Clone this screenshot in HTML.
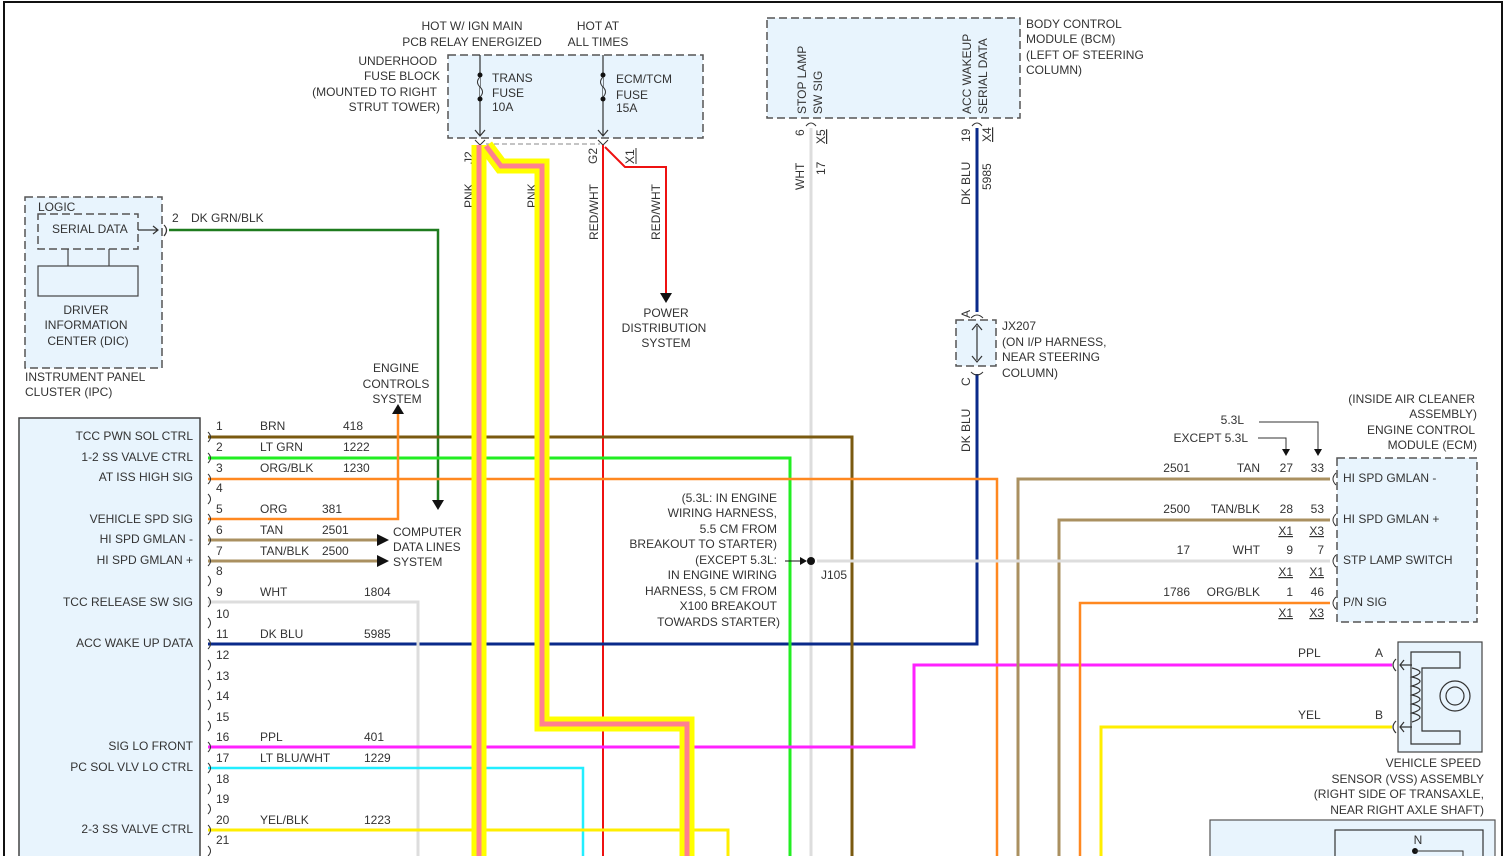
<!DOCTYPE html>
<html><head><meta charset="utf-8"><style>
html,body{margin:0;padding:0;background:#fff;}
svg{display:block;font-family:"Liberation Sans",Arial,sans-serif;}
text{font-size:12px;fill:#333;}
</style></head><body>
<svg width="1506" height="856" viewBox="0 0 1506 856" xmlns="http://www.w3.org/2000/svg">
<rect x="0" y="0" width="1506" height="856" fill="#fff"/>
<!-- outer border -->
<path d="M4 856 V2 H1502 V856" fill="none" stroke="#111" stroke-width="2"/>

<!-- boxes -->
<rect x="25" y="197" width="137" height="171" fill="#e8f4fd" stroke="#555" stroke-dasharray="8,4" stroke-width="1.5"/>
<rect x="38" y="214" width="100" height="35" fill="#e8f4fd" stroke="#555" stroke-dasharray="8,4" stroke-width="1.5"/>
<rect x="38" y="266" width="100" height="30" fill="#e8f4fd" stroke="#444" stroke-width="1.2"/>
<path d="M68 249 V266 M109 249 V266" stroke="#444" stroke-width="1.2"/>
<path d="M138 230 H158 M153 226 L158 230 L153 234" stroke="#333" fill="none" stroke-width="1.2"/>
<path d="M164 225 Q169 230 164 236" stroke="#333" fill="none" stroke-width="1.2"/>
<text x="38" y="211">LOGIC</text>
<text x="52" y="233">SERIAL DATA</text>
<text x="86" y="314" text-anchor="middle">DRIVER</text>
<text x="86" y="329" text-anchor="middle">INFORMATION</text>
<text x="88" y="345" text-anchor="middle">CENTER (DIC)</text>
<text x="25" y="381">INSTRUMENT PANEL</text>
<text x="25" y="396">CLUSTER (IPC)</text>

<rect x="448" y="55" width="255" height="83" fill="#e8f4fd" stroke="#555" stroke-dasharray="8,4" stroke-width="1.5"/>
<rect x="767" y="18" width="253" height="100" fill="#e8f4fd" stroke="#555" stroke-dasharray="8,4" stroke-width="1.5"/>
<rect x="1337" y="458" width="140" height="164" fill="#e8f4fd" stroke="#555" stroke-dasharray="8,4" stroke-width="1.5"/>
<rect x="956" y="320" width="40" height="46" fill="#e8f4fd" stroke="#555" stroke-dasharray="8,4" stroke-width="1.5"/>
<rect x="19" y="418" width="181" height="450" fill="#e8f4fd" stroke="#444" stroke-width="1.5"/>
<rect x="1398" y="642" width="84" height="110" fill="#e8f4fd" stroke="#444" stroke-width="1.2"/>
<rect x="1210" y="820" width="285" height="50" fill="#e8f4fd" stroke="#555" stroke-width="1.2"/>
<rect x="1335" y="830" width="148" height="40" fill="none" stroke="#333" stroke-width="1.2"/>
<text x="1418" y="844" text-anchor="middle">N</text>
<circle cx="1415" cy="851" r="3" fill="#111"/>
<path d="M1415 851 H1463 V856" stroke="#333" fill="none"/>

<!-- fuse labels -->
<text x="472" y="30" text-anchor="middle">HOT W/ IGN MAIN</text>
<text x="472" y="46" text-anchor="middle">PCB RELAY ENERGIZED</text>
<text x="598" y="30" text-anchor="middle">HOT AT</text>
<text x="598" y="46" text-anchor="middle">ALL TIMES</text>
<text x="437" y="65" text-anchor="end">UNDERHOOD</text>
<text x="440" y="80" text-anchor="end">FUSE BLOCK</text>
<text x="437" y="96" text-anchor="end">(MOUNTED TO RIGHT</text>
<text x="440" y="111" text-anchor="end">STRUT TOWER)</text>
<path d="M480 55 V135 M475 130 L480 136 L485 130 M603 55 V135 M598 130 L603 136 L608 130" stroke="#333" fill="none" stroke-width="1.2"/>
<circle cx="480" cy="75" r="2.5" fill="#111"/><circle cx="480" cy="99" r="2.5" fill="#111"/>
<circle cx="603" cy="75" r="2.5" fill="#111"/><circle cx="603" cy="99" r="2.5" fill="#111"/>
<path d="M480 77 Q475 82 480 87 Q485 92 480 97" fill="#e8f4fd" stroke="#333"/>
<path d="M603 77 Q598 82 603 87 Q608 92 603 97" fill="#e8f4fd" stroke="#333"/>
<text x="492" y="82">TRANS</text><text x="492" y="97">FUSE</text><text x="492" y="111">10A</text>
<text x="616" y="83">ECM/TCM</text><text x="616" y="99">FUSE</text><text x="616" y="112">15A</text>
<path d="M475 140 L480 145 L485 140 M598 140 L603 145 L608 140" stroke="#333" fill="none"/>
<path d="M486 144 H600" stroke="#888" stroke-dasharray="5,3"/>
<text transform="translate(473,164) rotate(-90)">J2</text>
<text transform="translate(597,164) rotate(-90)">G2</text>
<text transform="translate(634,164) rotate(-90)">X1</text>
<path d="M636 148 V164" stroke="#333"/>
<text transform="translate(473,208) rotate(-90)">PNK</text>
<text transform="translate(536,208) rotate(-90)">PNK</text>
<text transform="translate(598,240) rotate(-90)">RED/WHT</text>
<text transform="translate(660,240) rotate(-90)">RED/WHT</text>

<!-- BCM -->
<text transform="translate(806,114) rotate(-90)">STOP LAMP</text>
<text transform="translate(822,114) rotate(-90)">SW SIG</text>
<text transform="translate(971,114) rotate(-90)">ACC WAKEUP</text>
<text transform="translate(987,114) rotate(-90)">SERIAL DATA</text>
<text x="1026" y="28">BODY CONTROL</text>
<text x="1026" y="43">MODULE (BCM)</text>
<text x="1026" y="59">(LEFT OF STEERING</text>
<text x="1026" y="74">COLUMN)</text>
<path d="M806 126 Q811 120 816 126 M972 126 Q977 120 982 126" fill="none" stroke="#333"/>
<text transform="translate(804,136) rotate(-90)">6</text>
<text transform="translate(825,144) rotate(-90)" text-decoration="underline">X5</text>
<text transform="translate(970,142) rotate(-90)">19</text>
<text transform="translate(991,142) rotate(-90)" text-decoration="underline">X4</text>
<text transform="translate(804,190) rotate(-90)">WHT</text>
<text transform="translate(825,175) rotate(-90)">17</text>
<text transform="translate(970,205) rotate(-90)">DK BLU</text>
<text transform="translate(991,190) rotate(-90)">5985</text>
<text transform="translate(970,318) rotate(-90)">A</text>
<text transform="translate(970,386) rotate(-90)">C</text>
<text transform="translate(970,452) rotate(-90)">DK BLU</text>
<text x="1002" y="330">JX207</text>
<text x="1002" y="346">(ON I/P HARNESS,</text>
<text x="1002" y="361">NEAR STEERING</text>
<text x="1002" y="377">COLUMN)</text>

<!-- wires -->
<g fill="none">
<path d="M169 230 H438 V505" stroke="#1e7b1e" stroke-width="2.5"/>
<path d="M603 145 V856" stroke="#ee1111" stroke-width="2"/>
<path d="M605 147 L625 167 H666 V295" stroke="#ee1111" stroke-width="2"/>
<path d="M811 128 V856" stroke="#ddd" stroke-width="3"/>
<path d="M977 128 V312 M977 374 V644 H208" stroke="#0a2a8a" stroke-width="3"/>
<path d="M977 326 V360 M972 330 L977 324 L982 330 M972 356 L977 362 L982 356" stroke="#333" stroke-width="1.2"/>
<path d="M971 318 Q977 312 983 318 M971 372 Q977 378 983 372" stroke="#333"/>
<path d="M208 437 H852 V856" stroke="#7a5a10" stroke-width="3"/>
<path d="M208 458 H790 V856" stroke="#22ee22" stroke-width="3"/>
<path d="M208 479 H997 V856" stroke="#ff8820" stroke-width="2.5"/>
<path d="M208 519 H398 V412" stroke="#ff8820" stroke-width="2.5"/>
<path d="M208 540 H378 M208 561 H378" stroke="#aa9060" stroke-width="3"/>
<path d="M208 602 H418 V856" stroke="#ddd" stroke-width="3"/>
<path d="M208 747 H914 V665 H1392" stroke="#ff22ff" stroke-width="3"/>
<path d="M208 768 H583 V856" stroke="#22eeff" stroke-width="2.5"/>
<path d="M208 830 H728 V856" stroke="#ffee00" stroke-width="3"/>
<path d="M1101 856 V727 H1392" stroke="#ffee00" stroke-width="3"/>
<path d="M1018 856 V479 H1330" stroke="#aa9060" stroke-width="3"/>
<path d="M1059 856 V520 H1330" stroke="#aa9060" stroke-width="3"/>
<path d="M817 561 H1330" stroke="#ddd" stroke-width="3"/>
<path d="M1080 856 V603 H1330" stroke="#ff8820" stroke-width="2.5"/>
<!-- harnesses -->
<path d="M479 145 V856" stroke="#ffff00" stroke-width="15"/>
<path d="M486 146 L501 166 H542 V724 H687 V856" stroke="#ffff00" stroke-width="15" stroke-linejoin="miter"/>
<path d="M479 145 V856" stroke="#ff8090" stroke-width="5"/>
<path d="M486 146 L501 166 H542 V724 H687 V856" stroke="#ff8090" stroke-width="5"/>
</g>
<circle cx="811" cy="561" r="4" fill="#111"/>
<path d="M785 561 H804" stroke="#111"/><path d="M800 557 L807 561 L800 565Z" fill="#111"/>
<path d="M660 293 L666 303 L672 293Z" fill="#111"/>
<path d="M432 500 L438 510 L444 500Z" fill="#111"/>
<path d="M392 414 L398 404 L404 414Z" fill="#111"/>
<path d="M377 534 L389 540 L377 546Z M377 555 L389 561 L377 567Z" fill="#111"/>

<text x="666" y="317" text-anchor="middle">POWER</text>
<text x="664" y="332" text-anchor="middle">DISTRIBUTION</text>
<text x="666" y="347" text-anchor="middle">SYSTEM</text>
<text x="396" y="372" text-anchor="middle">ENGINE</text>
<text x="396" y="388" text-anchor="middle">CONTROLS</text>
<text x="397" y="403" text-anchor="middle">SYSTEM</text>
<text x="393" y="536">COMPUTER</text>
<text x="393" y="551">DATA LINES</text>
<text x="393" y="566">SYSTEM</text>
<text x="172" y="222">2</text><text x="191" y="222">DK GRN/BLK</text>

<g text-anchor="end">
<text x="777" y="502">(5.3L: IN ENGINE</text>
<text x="777" y="517">WIRING HARNESS,</text>
<text x="777" y="533">5.5 CM FROM</text>
<text x="777" y="548">BREAKOUT TO STARTER)</text>
<text x="777" y="564">(EXCEPT 5.3L:</text>
<text x="777" y="579">IN ENGINE WIRING</text>
<text x="777" y="595">HARNESS, 5 CM FROM</text>
<text x="777" y="610">X100 BREAKOUT</text>
<text x="780" y="626">TOWARDS STARTER)</text>
</g>
<text x="821" y="579">J105</text>

<!-- left connector labels -->
<g text-anchor="end">
<text x="193" y="440">TCC PWN SOL CTRL</text>
<text x="193" y="461">1-2 SS VALVE CTRL</text>
<text x="193" y="481">AT ISS HIGH SIG</text>
<text x="193" y="523">VEHICLE SPD SIG</text>
<text x="193" y="543">HI SPD GMLAN -</text>
<text x="193" y="564">HI SPD GMLAN +</text>
<text x="193" y="606">TCC RELEASE SW SIG</text>
<text x="193" y="647">ACC WAKE UP DATA</text>
<text x="193" y="750">SIG LO FRONT</text>
<text x="193" y="771">PC SOL VLV LO CTRL</text>
<text x="193" y="833">2-3 SS VALVE CTRL</text>
</g>
<g fill="none" stroke="#333">
<path d="M208 432 Q213 437 208 442 M208 453 Q213 458 208 463 M208 474 Q213 479 208 484 M208 494 Q213 499 208 504 M208 514 Q213 519 208 524 M208 535 Q213 540 208 545 M208 556 Q213 561 208 566 M208 576 Q213 581 208 586 M208 597 Q213 602 208 607 M208 618 Q213 623 208 628 M208 639 Q213 644 208 649 M208 660 Q213 665 208 670 M208 680 Q213 685 208 690 M208 700 Q213 705 208 710 M208 721 Q213 726 208 731 M208 742 Q213 747 208 752 M208 763 Q213 768 208 773 M208 784 Q213 789 208 794 M208 804 Q213 809 208 814 M208 825 Q213 830 208 835 M208 846 Q213 851 208 856"/>
</g>
<g>
<text x="216" y="430">1</text><text x="260" y="430">BRN</text><text x="343" y="430">418</text>
<text x="216" y="451">2</text><text x="260" y="451">LT GRN</text><text x="343" y="451">1222</text>
<text x="216" y="472">3</text><text x="260" y="472">ORG/BLK</text><text x="343" y="472">1230</text>
<text x="216" y="492">4</text>
<text x="216" y="513">5</text><text x="260" y="513">ORG</text><text x="322" y="513">381</text>
<text x="216" y="534">6</text><text x="260" y="534">TAN</text><text x="322" y="534">2501</text>
<text x="216" y="555">7</text><text x="260" y="555">TAN/BLK</text><text x="322" y="555">2500</text>
<text x="216" y="575">8</text>
<text x="216" y="596">9</text><text x="260" y="596">WHT</text><text x="364" y="596">1804</text>
<text x="216" y="618">10</text>
<text x="216" y="638">11</text><text x="260" y="638">DK BLU</text><text x="364" y="638">5985</text>
<text x="216" y="659">12</text><text x="216" y="680">13</text><text x="216" y="700">14</text><text x="216" y="721">15</text>
<text x="216" y="741">16</text><text x="260" y="741">PPL</text><text x="364" y="741">401</text>
<text x="216" y="762">17</text><text x="260" y="762">LT BLU/WHT</text><text x="364" y="762">1229</text>
<text x="216" y="783">18</text><text x="216" y="803">19</text>
<text x="216" y="824">20</text><text x="260" y="824">YEL/BLK</text><text x="364" y="824">1223</text>
<text x="216" y="844">21</text>
</g>

<!-- ECM -->
<g text-anchor="end">
<text x="1475" y="403">(INSIDE AIR CLEANER</text>
<text x="1477" y="418">ASSEMBLY)</text>
<text x="1475" y="434">ENGINE CONTROL</text>
<text x="1477" y="449">MODULE (ECM)</text>
<text x="1244" y="424">5.3L</text>
<text x="1248" y="442">EXCEPT 5.3L</text>
</g>
<path d="M1259 422 H1318 V450 M1258 438 H1286 V450" fill="none" stroke="#333"/>
<path d="M1314 449 L1318 456 L1322 449Z M1282 449 L1286 456 L1290 449Z" fill="#111"/>
<g fill="none" stroke="#333"><path d="M1336 473 Q1330 479 1336 485 M1336 514 Q1330 520 1336 526 M1336 555 Q1330 561 1336 567 M1336 597 Q1330 603 1336 609"/></g>
<text x="1343" y="482">HI SPD GMLAN -</text>
<text x="1343" y="523">HI SPD GMLAN +</text>
<text x="1343" y="564">STP LAMP SWITCH</text>
<text x="1343" y="606">P/N SIG</text>
<g text-anchor="end">
<text x="1190" y="472">2501</text><text x="1260" y="472">TAN</text><text x="1293" y="472">27</text><text x="1324" y="472">33</text>
<text x="1190" y="513">2500</text><text x="1260" y="513">TAN/BLK</text><text x="1293" y="513">28</text><text x="1324" y="513">53</text>
<text x="1293" y="535" text-decoration="underline">X1</text><text x="1324" y="535" text-decoration="underline">X3</text>
<text x="1190" y="554">17</text><text x="1260" y="554">WHT</text><text x="1293" y="554">9</text><text x="1324" y="554">7</text>
<text x="1293" y="576" text-decoration="underline">X1</text><text x="1324" y="576" text-decoration="underline">X1</text>
<text x="1190" y="596">1786</text><text x="1260" y="596">ORG/BLK</text><text x="1293" y="596">1</text><text x="1324" y="596">46</text>
<text x="1293" y="617" text-decoration="underline">X1</text><text x="1324" y="617" text-decoration="underline">X3</text>
</g>

<!-- VSS -->
<text x="1298" y="657">PPL</text><text x="1375" y="657">A</text>
<text x="1298" y="719">YEL</text><text x="1375" y="719">B</text>
<g fill="none" stroke="#333" stroke-width="1.2">
<path d="M1396 659 Q1390 665 1396 671 M1396 721 Q1390 727 1396 733"/>
<path d="M1412 665 H1400 M1404 660 L1400 665 L1404 670 M1412 727 H1400 M1404 722 L1400 727 L1404 732"/>
<path d="M1411 652 H1460 V668 H1422 V731 H1460 V744 H1411 Z"/>
<path d="M1412 668 Q1428 672 1412 677 Q1428 681 1412 686 Q1428 690 1412 695 Q1428 699 1412 704 Q1428 708 1412 713 Q1428 717 1412 722"/>
<circle cx="1455" cy="696" r="15"/>
<circle cx="1455" cy="696" r="9"/>
</g>
<g text-anchor="end">
<text x="1481" y="767">VEHICLE SPEED</text>
<text x="1484" y="783">SENSOR (VSS) ASSEMBLY</text>
<text x="1484" y="798">(RIGHT SIDE OF TRANSAXLE,</text>
<text x="1484" y="814">NEAR RIGHT AXLE SHAFT)</text>
</g>
</svg>
</body></html>
